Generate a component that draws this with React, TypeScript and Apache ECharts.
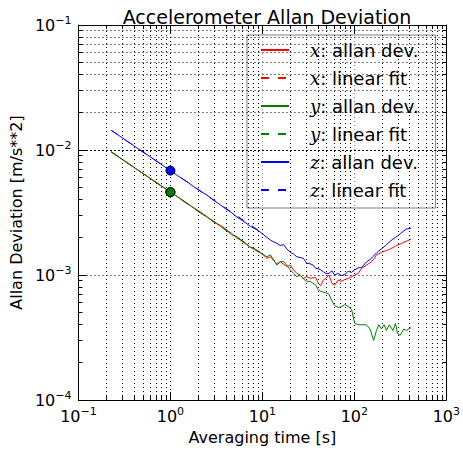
import React, { useEffect, useRef } from "react";
import * as echarts from "echarts";

const FONT = "DejaVu Sans";

// Averaging times [s]
const tau = [
  0.227, 0.3, 0.4, 0.5, 0.6, 0.75, 0.9, 1.0, 1.2, 1.5, 1.8, 2.1, 2.5, 3.0, 3.5, 4.0, 4.6, 5.3, 6.1,
  7.4, 8.7, 9.5, 11.2, 12.2, 13.3, 14.4, 15.6, 17, 18.4,
  20.1, 21.8, 23.7, 25.7, 27.9, 30.4, 33, 35.5, 38, 40.6,
  43, 46, 49, 53, 57, 61, 66.8, 72.6, 78.8, 85.7,
  93.3, 101, 110, 120, 135, 148, 162, 174, 185, 197,
  211, 223, 240, 263, 280, 295, 316, 345, 367, 415,
];

const xDev = [
  9.65e-3, 8.38e-3, 7.25e-3, 6.5e-3, 5.92e-3, 5.3e-3, 4.86e-3, 4.62e-3, 4.2e-3, 3.74e-3, 3.45e-3, 3.2e-3, 2.93e-3, 2.62e-3, 2.5e-3, 2.33e-3, 2.1e-3, 2.03e-3, 1.84e-3,
  1.67e-3, 1.58e-3, 1.52e-3, 1.36e-3, 1.4e-3, 1.3e-3, 1.22e-3, 1.28e-3, 1.22e-3, 1.17e-3,
  1.2e-3, 1.1e-3, 1.03e-3, 1.0e-3, 0.94e-3, 0.97e-3, 0.94e-3, 0.95e-3, 0.95e-3, 0.86e-3,
  0.82e-3, 0.91e-3, 0.94e-3, 1.0e-3, 0.86e-3, 0.83e-3, 0.91e-3, 0.89e-3, 0.92e-3, 0.94e-3,
  0.97e-3, 1.0e-3, 1.03e-3, 1.13e-3, 1.2e-3, 1.25e-3, 1.33e-3, 1.45e-3, 1.48e-3, 1.52e-3,
  1.55e-3, 1.57e-3, 1.6e-3, 1.66e-3, 1.7e-3, 1.74e-3, 1.77e-3, 1.83e-3, 1.86e-3, 1.94e-3,
];

const yDev = [
  9.7e-3, 8.42e-3, 7.3e-3, 6.52e-3, 5.95e-3, 5.33e-3, 4.83e-3, 4.6e-3, 4.22e-3, 3.78e-3, 3.42e-3, 3.15e-3, 2.9e-3, 2.68e-3, 2.44e-3, 2.28e-3, 2.16e-3, 1.97e-3, 1.88e-3,
  1.67e-3, 1.58e-3, 1.5e-3, 1.4e-3, 1.45e-3, 1.32e-3, 1.2e-3, 1.28e-3, 1.28e-3, 1.2e-3,
  1.1e-3, 1.03e-3, 0.97e-3, 1.0e-3, 0.93e-3, 0.89e-3, 0.89e-3, 0.86e-3, 0.83e-3, 0.76e-3,
  0.74e-3, 0.73e-3, 0.72e-3, 0.7e-3, 0.62e-3, 0.57e-3, 0.55e-3, 0.56e-3, 0.58e-3, 0.56e-3,
  0.53e-3, 0.41e-3, 0.4e-3, 0.4e-3, 0.4e-3, 0.37e-3, 0.3e-3, 0.36e-3, 0.4e-3, 0.37e-3,
  0.4e-3, 0.36e-3, 0.4e-3, 0.36e-3, 0.41e-3, 0.34e-3, 0.33e-3, 0.37e-3, 0.36e-3, 0.38e-3,
];

const zDev = [
  1.44e-2, 1.25e-2, 1.08e-2, 9.65e-3, 8.85e-3, 7.9e-3, 7.2e-3, 6.85e-3, 6.22e-3, 5.6e-3, 5.08e-3, 4.7e-3, 4.35e-3, 3.93e-3, 3.63e-3, 3.38e-3, 3.16e-3, 2.9e-3, 2.72e-3,
  2.45e-3, 2.3e-3, 2.2e-3, 2.0e-3, 1.9e-3, 1.84e-3, 1.79e-3, 1.72e-3, 1.75e-3, 1.62e-3,
  1.52e-3, 1.47e-3, 1.4e-3, 1.38e-3, 1.36e-3, 1.24e-3, 1.23e-3, 1.2e-3, 1.13e-3, 1.12e-3,
  1.1e-3, 1.06e-3, 1.03e-3, 1.03e-3, 1.08e-3, 1.0e-3, 1.03e-3, 0.99e-3, 1.01e-3, 1.07e-3,
  1.05e-3, 1.1e-3, 1.14e-3, 1.15e-3, 1.27e-3, 1.33e-3, 1.42e-3, 1.5e-3, 1.56e-3, 1.62e-3,
  1.68e-3, 1.74e-3, 1.84e-3, 1.94e-3, 2.0e-3, 2.05e-3, 2.14e-3, 2.25e-3, 2.33e-3, 2.37e-3,
];

// Linear fit end points
const fitTau = [0.227, 10];
const xFit = [9.65e-3, 1.455e-3];
const yFit = [9.65e-3, 1.455e-3];
const zFit = [1.436e-2, 2.163e-3];

// Marked points at tau = 1 s
const markTau = [1];
const xMark = [4.6e-3];
const yMark = [4.6e-3];
const zMark = [6.84e-3];

const names = [
  "x: allan dev.",
  "x: linear fit",
  "y: allan dev.",
  "y: linear fit",
  "z: allan dev.",
  "z: linear fit",
];

const X_MIN = 0.1, X_MAX = 1000, Y_MIN = 1e-4, Y_MAX = 0.1;
const xDecades = [0.1, 1, 10, 100];
const yDecades = [1e-4, 1e-3, 1e-2];
const mults = [2, 3, 4, 5, 6, 7, 8, 9];
const xMinor = xDecades.flatMap((d) => mults.map((m) => Number((m * d).toPrecision(3))));
const yMinor = yDecades.flatMap((d) => mults.map((m) => Number((m * d).toPrecision(3))));

const pair = (xs: number[], ys: number[]) => xs.map((x, i) => [x, ys[i]]);

const supLabel = (v: number) => {
  const e = Math.round(Math.log10(v));
  return `{b|10}{s|${e < 0 ? "\u2212" + -e : e}}`;
};
const labelRich = {
  b: { fontSize: 16, fontFamily: FONT, color: "#000" },
  s: { fontSize: 11, fontFamily: FONT, color: "#000", padding: [0, 0, 9, 0] },
};

const dotted = { color: "#000", width: 1, type: [1, 3] as any };

function buildOption() {
  const gridLines: any[] = [];
  xMinor.forEach((v) => gridLines.push({ xAxis: v }));
  yMinor.forEach((v) => gridLines.push({ yAxis: v }));
  // minor ticks (inside, 4 px)
  const tickLines: any[] = [];
  const yTickLen = Math.pow(10, 4 / 125);
  const xTickLen = Math.pow(10, 4 / 92.5);
  xMinor.forEach((v) => {
    tickLines.push([{ coord: [v, Y_MIN] }, { coord: [v, Y_MIN * yTickLen] }]);
    tickLines.push([{ coord: [v, Y_MAX] }, { coord: [v, Y_MAX / yTickLen] }]);
  });
  yMinor.forEach((v) => {
    tickLines.push([{ coord: [X_MIN, v] }, { coord: [X_MIN * xTickLen, v] }]);
    tickLines.push([{ coord: [X_MAX, v] }, { coord: [X_MAX / xTickLen, v] }]);
  });

  const baseAxis = {
    type: "log",
    logBase: 10,
    axisLine: { show: true, onZero: false, lineStyle: { color: "#000", width: 1 } },
    axisTick: { show: true, inside: true, length: 8, lineStyle: { color: "#000", width: 1 } },
  };

  const devLine = (name: string, data: number[], color: string) => ({
    name,
    type: "line",
    data: pair(tau, data),
    symbol: "none",
    showSymbol: false,
    lineStyle: { color, width: 1 },
    itemStyle: { color },
    z: 3,
    emphasis: { disabled: true },
  });
  const fitLine = (name: string, data: number[], color: string) => ({
    name,
    type: "line",
    data: pair(fitTau, data),
    symbol: "none",
    showSymbol: false,
    lineStyle: { color, width: 1, type: [8, 9] },
    itemStyle: { color },
    z: 3,
    emphasis: { disabled: true },
  });
  const marker = (name: string, data: number[], color: string) => ({
    name,
    type: "scatter",
    data: pair(markTau, data),
    symbol: "circle",
    symbolSize: 9,
    itemStyle: { color, borderColor: "#000", borderWidth: 1, opacity: 1 },
    z: 4,
    emphasis: { disabled: true },
  });

  return {
    animation: false,
    backgroundColor: "#fff",
    textStyle: { fontFamily: FONT },
    title: {
      text: "Accelerometer Allan Deviation",
      left: 262,
      textAlign: "center",
      top: 2,
      textStyle: { fontSize: 19, fontWeight: "normal", color: "#000", fontFamily: FONT },
    },
    grid: { left: 77, right: 16, top: 25, bottom: 50, containLabel: false },
    legend: {
      data: names,
      orient: "vertical",
      left: 247,
      top: 35,
      padding: [6, 17, 9, 13],
      itemWidth: 28,
      itemHeight: 14,
      itemGap: 10,
      selectedMode: false,
      backgroundColor: "rgba(255,255,255,0.55)",
      borderColor: "#808080",
      borderWidth: 1,
      borderRadius: 0,
      itemStyle: { opacity: 0, borderWidth: 0 },
      formatter: (n: string) => `{i|${n[0]}}{t|${n.slice(1)}}`,
      textStyle: {
        rich: {
          i: { fontFamily: "DejaVu Serif", fontStyle: "italic", fontSize: 18, color: "#000", lineHeight: 20, padding: [0, 0, 0, 16] },
          t: { fontFamily: FONT, fontSize: 18, color: "#000", lineHeight: 20 },
        },
      },
    },
    xAxis: [
      {
        ...baseAxis,
        min: X_MIN,
        max: X_MAX,
        position: "bottom",
        axisLabel: { formatter: supLabel, rich: labelRich, margin: 6 },
        splitLine: { show: true, lineStyle: dotted },
        name: "Averaging time [s]",
        nameLocation: "middle",
        nameGap: 29,
        nameTextStyle: { fontSize: 16, fontFamily: FONT, color: "#000" },
      },
      {
        ...baseAxis,
        min: X_MIN,
        max: X_MAX,
        position: "top",
        axisLabel: { show: false },
        splitLine: { show: false },
      },
    ],
    yAxis: [
      {
        ...baseAxis,
        min: Y_MIN,
        max: Y_MAX,
        position: "left",
        axisLabel: { formatter: supLabel, rich: labelRich, margin: 7 },
        splitLine: { show: true, lineStyle: dotted },
        name: "Allan Deviation [m/s**2]",
        nameLocation: "middle",
        nameGap: 44,
        nameTextStyle: { fontSize: 16, fontFamily: FONT, color: "#000" },
      },
      {
        ...baseAxis,
        min: Y_MIN,
        max: Y_MAX,
        position: "right",
        axisLabel: { show: false },
        splitLine: { show: false },
      },
    ],
    series: [
      {
        name: "grid",
        type: "line",
        data: [],
        z: 1,
        silent: true,
        markLine: {
          silent: true,
          symbol: ["none", "none"],
          label: { show: false },
          emphasis: { disabled: true },
          lineStyle: dotted,
          data: [...gridLines, ...tickLines.map((seg) => [
            { ...seg[0], lineStyle: { type: "solid", color: "#000", width: 1 } },
            seg[1],
          ])],
        },
      },
      devLine(names[0], xDev, "#ff0000"),
      fitLine(names[1], xFit, "#ff0000"),
      devLine(names[2], yDev, "#008000"),
      fitLine(names[3], yFit, "#008000"),
      devLine(names[4], zDev, "#0000ff"),
      fitLine(names[5], zFit, "#0000ff"),
      marker("x mark", xMark, "#ff0000"),
      marker("y mark", yMark, "#008000"),
      marker("z mark", zMark, "#0000ff"),
    ],
  };
}

export default function App() {
  const ref = useRef<HTMLDivElement>(null);
  useEffect(() => {
    const chart = echarts.init(ref.current!, null, { renderer: "svg" });
    chart.setOption(buildOption() as any);
    return () => chart.dispose();
  }, []);
  return (
    <div
      ref={ref}
      style={{ position: "absolute", left: 0, top: 0, width: 463, height: 450 }}
    />
  );
}
